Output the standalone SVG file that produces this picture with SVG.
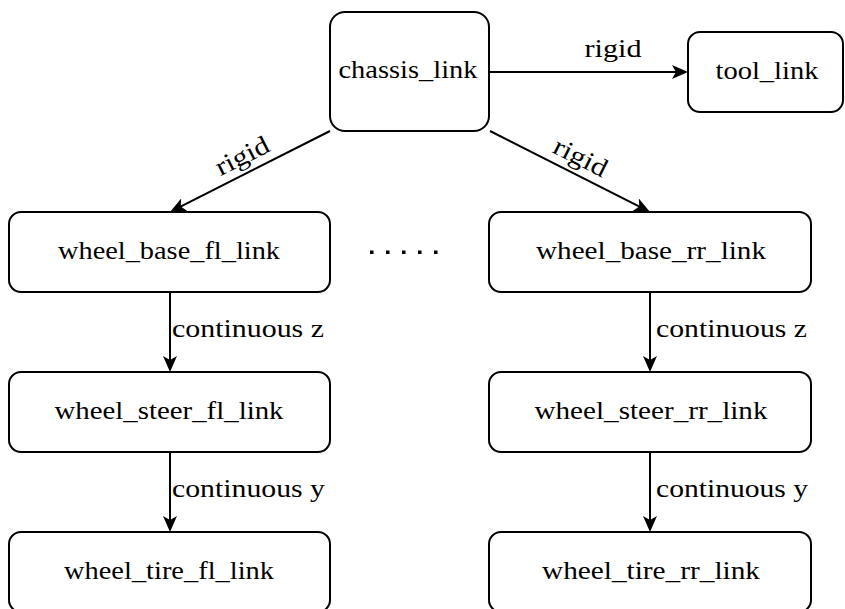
<svg xmlns="http://www.w3.org/2000/svg" width="845" height="609" viewBox="0 0 845 609">
<style>
.box{fill:#fff;stroke:#000;stroke-width:2}
.t{font-family:"Liberation Serif","Times New Roman",serif;font-size:26px;fill:#000;text-anchor:middle}
.l{font-family:"Liberation Serif","Times New Roman",serif;font-size:26px;fill:#000}
.e{stroke:#000;stroke-width:2;fill:none}
</style>
<defs>
<marker id="ah" viewBox="0 0 16 14" refX="12" refY="7" markerWidth="16" markerHeight="14" markerUnits="userSpaceOnUse" orient="auto">
<path d="M0,0 L16,7 L0,14 L4,7 z" fill="#000"/>
</marker>
</defs>
<rect width="845" height="609" fill="#fff"/>
<g id="edges">
<line class="e" x1="490" y1="72" x2="684" y2="72" marker-end="url(#ah)"/>
<line class="e" x1="330" y1="131" x2="173.6" y2="210.2" marker-end="url(#ah)"/>
<line class="e" x1="490" y1="131" x2="646.4" y2="210.2" marker-end="url(#ah)"/>
<line class="e" x1="170" y1="292" x2="170" y2="368" marker-end="url(#ah)"/>
<line class="e" x1="170" y1="452" x2="170" y2="528" marker-end="url(#ah)"/>
<line class="e" x1="650" y1="292" x2="650" y2="368" marker-end="url(#ah)"/>
<line class="e" x1="650" y1="452" x2="650" y2="528" marker-end="url(#ah)"/>
<text class="t" x="613" y="57" textLength="57" lengthAdjust="spacingAndGlyphs">rigid</text>
<text class="t" transform="translate(250,171.5) rotate(-26.85)" x="0" y="-9" textLength="57" lengthAdjust="spacingAndGlyphs">rigid</text>
<text class="t" transform="translate(570,171.5) rotate(26.85)" x="3" y="-9" textLength="57" lengthAdjust="spacingAndGlyphs">rigid</text>
<text class="l" x="172" y="337" textLength="152" lengthAdjust="spacingAndGlyphs">continuous z</text>
<text class="l" x="172" y="497" textLength="153" lengthAdjust="spacingAndGlyphs">continuous y</text>
<text class="l" x="656" y="337" textLength="151" lengthAdjust="spacingAndGlyphs">continuous z</text>
<text class="l" x="656" y="497" textLength="152" lengthAdjust="spacingAndGlyphs">continuous y</text>
</g>
<g id="chassis_link">
<rect class="box" x="330" y="12" width="159" height="119" rx="15"/>
<text class="t" x="408" y="78" textLength="139" lengthAdjust="spacingAndGlyphs">chassis_link</text>
</g>
<g id="tool_link">
<rect class="box" x="688" y="32" width="155" height="80" rx="12"/>
<text class="t" x="767" y="79" textLength="103" lengthAdjust="spacingAndGlyphs">tool_link</text>
</g>
<g id="wheel_base_fl_link">
<rect class="box" x="9" y="212" width="321" height="80" rx="12"/>
<text class="t" x="169" y="259" textLength="222" lengthAdjust="spacingAndGlyphs">wheel_base_fl_link</text>
</g>
<g id="wheel_steer_fl_link">
<rect class="box" x="9" y="372" width="321" height="80" rx="12"/>
<text class="t" x="169" y="419" textLength="229" lengthAdjust="spacingAndGlyphs">wheel_steer_fl_link</text>
</g>
<g id="wheel_tire_fl_link">
<rect class="box" x="9" y="532" width="321" height="80" rx="12"/>
<text class="t" x="169" y="579" textLength="210" lengthAdjust="spacingAndGlyphs">wheel_tire_fl_link</text>
</g>
<g id="wheel_base_rr_link">
<rect class="box" x="489" y="212" width="322" height="80" rx="12"/>
<text class="t" x="651" y="259" textLength="230" lengthAdjust="spacingAndGlyphs">wheel_base_rr_link</text>
</g>
<g id="wheel_steer_rr_link">
<rect class="box" x="489" y="372" width="322" height="80" rx="12"/>
<text class="t" x="651" y="419" textLength="233" lengthAdjust="spacingAndGlyphs">wheel_steer_rr_link</text>
</g>
<g id="wheel_tire_rr_link">
<rect class="box" x="489" y="532" width="322" height="80" rx="12"/>
<text class="t" x="651" y="579" textLength="218" lengthAdjust="spacingAndGlyphs">wheel_tire_rr_link</text>
</g>
<g id="ellipsis">
<rect x="370" y="250.5" width="3.5" height="3.5"/>
<rect x="386" y="250.5" width="3.5" height="3.5"/>
<rect x="402" y="250.5" width="3.5" height="3.5"/>
<rect x="418" y="250.5" width="3.5" height="3.5"/>
<rect x="434" y="250.5" width="3.5" height="3.5"/>
</g>
</svg>
